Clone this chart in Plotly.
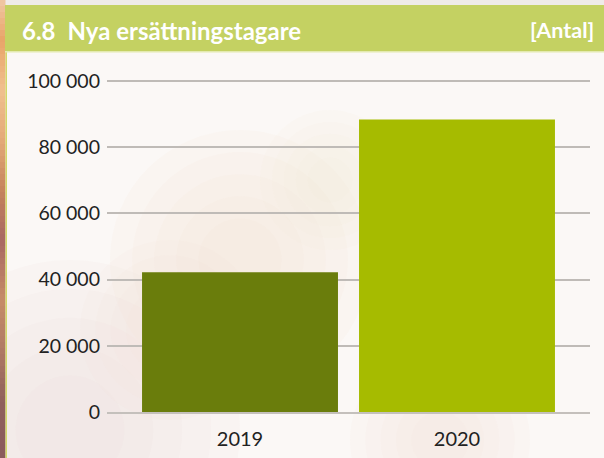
import plotly.graph_objects as go

# Data
years = ["2019", "2020"]
recipients = [42200, 88400]
bar_colors = ["#6a7d0c", "#a6bb00"]
y_tickvals = [0, 20000, 40000, 60000, 80000, 100000]
y_ticktext = ["0", "20 000", "40 000", "60 000", "80 000", "100 000"]

title_text = "6.8\u2002Nya ersättningstagare"
unit_text = "[Antal]"

W, H = 604, 458
FONT = "Lato, 'Open Sans', sans-serif"

# Plot area in pixels
ML, MR, MT, MB = 107, 14, 79, 46
PW, PH = W - ML - MR, H - MT - MB


def px_x(v):
    # pixel x -> paper (plot-area) coordinate
    return (v - ML) / PW


def px_y(v):
    # pixel y (from top) -> paper (plot-area) coordinate
    return (H - MB - v) / PH


def hex_to_rgb(h):
    h = h.lstrip("#")
    return tuple(int(h[i:i + 2], 16) for i in (0, 2, 4))


def lerp_color(c1, c2, t):
    a, b = hex_to_rgb(c1), hex_to_rgb(c2)
    return "rgb({},{},{})".format(*[round(a[i] + (b[i] - a[i]) * t) for i in range(3)])


shapes = []

# Soft tinted patches in the panel background (concentric rings fake a blur)
blobs = [
    (70, 430, 170, "#e6d8d4"),
    (240, 260, 130, "#f5dcc8"),
    (170, 330, 90, "#efdcd2"),
    (440, 440, 90, "#f7e2d0"),
    (330, 180, 70, "#f6e4d6"),
]
for cx, cy, r, col in blobs:
    for k in range(5):
        rr = r * (1 - 0.17 * k)
        shapes.append(dict(type="circle", xref="paper", yref="paper",
                           x0=px_x(cx - rr), x1=px_x(cx + rr),
                           y0=px_y(cy + rr), y1=px_y(cy - rr),
                           fillcolor=col, opacity=0.09, line_width=0, layer="below"))

# Light strip along the top edge
shapes.append(dict(type="rect", xref="paper", yref="paper",
                   x0=px_x(0), x1=px_x(W), y0=px_y(5), y1=px_y(0),
                   fillcolor="#efebe8", line_width=0, layer="below"))

# Warm vertical gradient strip along the left edge
stops = [(0, "#f0c8a4"), (40, "#e8a468"), (90, "#f0c08e"), (140, "#e4aa78"),
         (190, "#c6845c"), (240, "#a86862"), (300, "#c68c68"), (350, "#b07a64"),
         (400, "#90605c"), (458, "#8a5a5c")]
step = 6
for y in range(0, H, step):
    yc = y + step / 2
    col = stops[-1][1]
    for (ya, ca), (yb, cb) in zip(stops[:-1], stops[1:]):
        if ya <= yc <= yb:
            col = lerp_color(ca, cb, (yc - ya) / (yb - ya))
            break
    shapes.append(dict(type="rect", xref="paper", yref="paper",
                       x0=px_x(0), x1=px_x(5.5),
                       y0=px_y(min(y + step, H)), y1=px_y(y),
                       fillcolor=col, line_width=0, layer="below"))

# Thin yellow-green border on the panel's left side
shapes.append(dict(type="rect", xref="paper", yref="paper",
                   x0=px_x(5.5), x1=px_x(7), y0=px_y(H), y1=px_y(51),
                   fillcolor="#d3d86a", line_width=0, layer="below"))

# Header band
shapes.append(dict(type="rect", xref="paper", yref="paper",
                   x0=px_x(5), x1=px_x(W), y0=px_y(51), y1=px_y(5),
                   fillcolor="#c4d162", line_width=0, layer="below"))
shapes.append(dict(type="rect", xref="paper", yref="paper",
                   x0=px_x(5), x1=px_x(W), y0=px_y(52.5), y1=px_y(51),
                   fillcolor="#e4eab0", line_width=0, layer="below"))

fig = go.Figure(go.Bar(
    x=years,
    y=recipients,
    marker=dict(color=bar_colors, line_width=0),
    width=0.903,
    hoverinfo="x+y",
))

fig.update_layout(
    width=W, height=H,
    margin=dict(l=ML, r=MR, t=MT, b=MB, pad=0, autoexpand=False),
    paper_bgcolor="#fbf8f6",
    plot_bgcolor="rgba(0,0,0,0)",
    font=dict(family=FONT, color="#222222"),
    showlegend=False,
    shapes=shapes,
    xaxis=dict(
        type="category",
        range=[-0.613, 1.613],
        showgrid=False,
        showline=True, linecolor="#c4c0bc", linewidth=1.5,
        ticks="", tickfont=dict(size=20, color="#222222"),
        ticklabelstandoff=8,
        automargin=False,
        fixedrange=True,
    ),
    yaxis=dict(
        # a little headroom keeps the 100 000 gridline inside the plot area
        range=[0, 100604],
        tickvals=y_tickvals, ticktext=y_ticktext,
        showgrid=True, gridcolor="#bfbbb7", gridwidth=1.5,
        zeroline=False, showline=False,
        ticks="", tickfont=dict(size=19.5, color="#222222"),
        ticklabelstandoff=6,
        automargin=False,
        fixedrange=True,
    ),
    annotations=[
        dict(text="<b>" + title_text + "</b>", xref="paper", yref="paper",
             x=px_x(20), y=px_y(30), xanchor="left", yanchor="middle",
             showarrow=False, font=dict(family=FONT, size=24, color="white")),
        dict(text="<b>" + unit_text + "</b>", xref="paper", yref="paper",
             x=px_x(596), y=px_y(30), xanchor="right", yanchor="middle",
             showarrow=False, font=dict(family=FONT, size=21.5, color="white")),
    ],
)

fig.write_html("out.html")
